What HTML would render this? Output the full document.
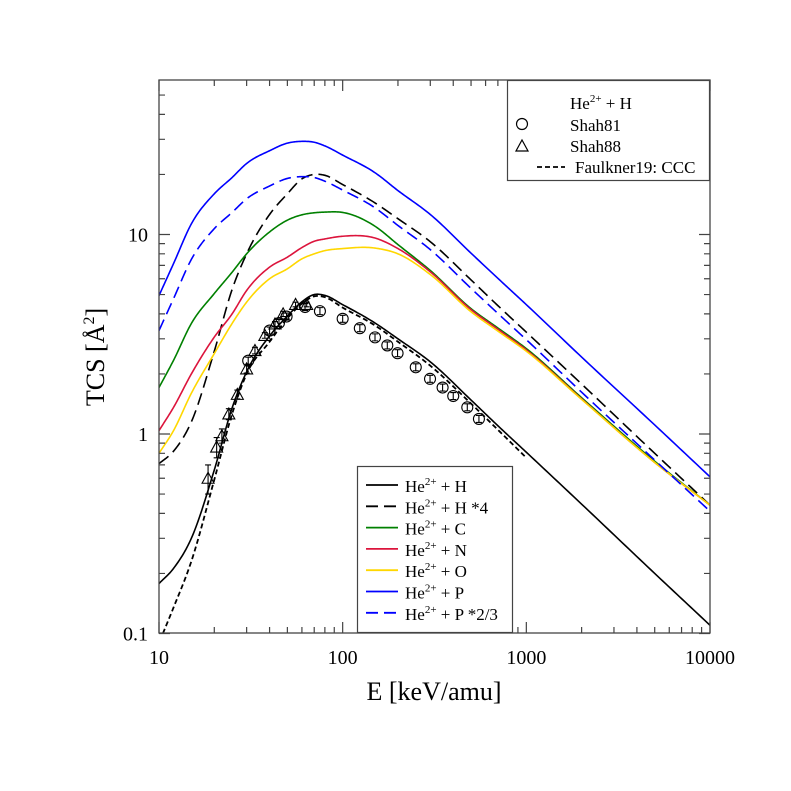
<!DOCTYPE html>
<html><head><meta charset="utf-8"><style>
body{margin:0;background:#fff}
svg{display:block;font-family:"Liberation Serif",serif}
</style></head><body>
<svg id="c" width="791" height="791" viewBox="0 0 791 791">
<rect width="791" height="791" fill="#fff"/>
<g id="series"></g>
<g id="marks"></g>
<g id="axes"></g>
<text x="434" y="700" font-size="26" text-anchor="middle">E [keV/amu]</text>
<text transform="translate(104,357) rotate(-90)" font-size="26" text-anchor="middle">TCS [Å<tspan font-size="16" dy="-10">2</tspan><tspan dy="10">]</tspan></text>
<g>
<rect x="507.5" y="80.5" width="202" height="100" fill="#fff" stroke="#444" stroke-width="1.2"/>
<text x="570" y="109" font-size="17">He<tspan font-size="11" dy="-7">2+</tspan><tspan dy="7"> + H</tspan></text>
<circle cx="522" cy="124" r="5.5" fill="none" stroke="#000" stroke-width="1.2"/>
<text x="570" y="131" font-size="17">Shah81</text>
<path d="M516,151 L528,151 L522,140 Z" fill="none" stroke="#000" stroke-width="1.2"/>
<text x="570" y="152" font-size="17">Shah88</text>
<line x1="537" y1="167" x2="565" y2="167" stroke="#000" stroke-width="1.8" stroke-dasharray="5,3"/>
<text x="575" y="173" font-size="17">Faulkner19: CCC</text>
</g>
<g id="legend2">
<rect x="357.5" y="466.5" width="155" height="166" fill="#fff" stroke="#444" stroke-width="1.2"/>
</g>
</svg>
<script>
const energies=[10,12,15,20,25,30,40,50,60,70,80,100,150,200,300,500,700,1000,2000,5000,10000];
const sigH=[0.178,0.212,0.3,0.66,1.35,2.05,3.1,3.9,4.6,5.0,4.95,4.45,3.6,3.0,2.3,1.48,1.10,0.81,0.445,0.20,0.11];
const sigH4=[0.71,0.82,1.15,2.6,5.3,8.0,12.6,16.0,19.0,20,19.8,17.8,14.4,12,9.2,5.92,4.40,3.24,1.78,0.80,0.44];
const sigC=[1.71,2.34,3.58,5.06,6.47,8.0,10.3,11.8,12.55,12.85,12.95,12.9,11.0,8.9,6.6,4.25,3.4,2.68,1.52,0.73,0.44];
const sigN=[1.04,1.36,2.0,3.06,4.0,5.24,6.86,7.7,8.6,9.25,9.5,9.8,9.6,8.5,6.5,4.2,3.35,2.64,1.5,0.72,0.44];
const sigO=[0.80,1.04,1.6,2.53,3.58,4.58,6.0,6.73,7.55,8.0,8.3,8.5,8.55,8.0,6.3,4.1,3.28,2.6,1.49,0.72,0.44];
const sigP=[4.94,7.15,11.3,16,19.3,22.7,26.3,28.7,29.3,29.0,27.8,25,20.4,16.6,12.6,8.06,6.03,4.45,2.43,1.11,0.61];
const sigP23=[3.3,4.77,7.5,10.7,12.9,15.1,17.5,19.1,19.5,19.3,18.5,16.7,13.6,11.1,8.4,5.37,4.02,2.97,1.62,0.74,0.41];
const ccE=[10.5,12,15,20,25,30,40,50,60,70,80,100,150,200,300,500,700,1000];
const ccSig=[0.1,0.135,0.23,0.59,1.26,2.0,2.9,3.8,4.5,4.9,4.85,4.3,3.5,2.9,2.2,1.42,1.05,0.76];
const s81E=[30.6,40,45,49.5,62.4,75.2,100,124,150,175,199,250,299,350,400,477,552];
const s81Sig=[2.33,3.3,3.6,3.88,4.33,4.13,3.78,3.39,3.05,2.78,2.54,2.16,1.89,1.71,1.55,1.36,1.19];
const s88E=[18.5,20.6,22,24,26.7,30,33.3,37.7,42.8,47.4,55.4,63.7];
const s88Sig=[0.6,0.86,0.98,1.26,1.58,2.12,2.62,3.12,3.56,4.0,4.46,4.46];
const s88Err=[0.1,0.1,0.08,0.08,0.08,0.1,0.1,0.1,0.1,0.12,0.12,0.12];
const xTicks=[10,100,1000,10000];
const xTickLabels=["10","100","1000","10000"];
const yTicks=[0.1,1,10];
const yTickLabels=["0.1","1","10"];
const legendLabels=[" + H"," + H *4"," + C"," + N"," + O"," + P"," + P *2/3"];

const X0=159,X1=710,Y0=633,Y1=80;
const xS=v=>X0+(Math.log10(v)-1)*(X1-X0)/3;
const yS=v=>434-(Math.log10(v))*199.5;
const NS='http://www.w3.org/2000/svg';
function mk(tag,at,parent){const e=document.createElementNS(NS,tag);for(const k in at)e.setAttribute(k,at[k]);parent.appendChild(e);return e;}
function pathFrom(xs,ys){
  const lx=xs.map(Math.log10),ly=ys.map(Math.log10),n=lx.length;
  const m=lx.map((_,i)=>{
    if(i===0)return (ly[1]-ly[0])/(lx[1]-lx[0]);
    if(i===n-1)return (ly[n-1]-ly[n-2])/(lx[n-1]-lx[n-2]);
    const d0=(ly[i]-ly[i-1])/(lx[i]-lx[i-1]),d1=(ly[i+1]-ly[i])/(lx[i+1]-lx[i]);
    const w0=lx[i+1]-lx[i],w1=lx[i]-lx[i-1];
    return (d0*w0+d1*w1)/(w0+w1);
  });
  const pts=[];
  for(let i=0;i<n-1;i++){
    const h=lx[i+1]-lx[i];const steps=20;
    for(let k=(i===0?0:1);k<=steps;k++){
      const t=k/steps,t2=t*t,t3=t2*t;
      const y=(2*t3-3*t2+1)*ly[i]+(t3-2*t2+t)*h*m[i]+(-2*t3+3*t2)*ly[i+1]+(t3-t2)*h*m[i+1];
      const x=lx[i]+t*h;
      pts.push([X0+(x-1)*(X1-X0)/3,434-y*199.5]);
    }
  }
  return 'M'+pts.map(p=>p[0].toFixed(2)+','+p[1].toFixed(2)).join(' L');
}
const defs=mk('defs',{},document.getElementById('c'));
const cp=mk('clipPath',{id:'clip'},defs);
mk('rect',{x:X0,y:Y1,width:X1-X0,height:Y0-Y1},cp);
const sg=document.getElementById('series');
sg.setAttribute('clip-path','url(#clip)');
const seriesDefs=[
 ['series-he-h',sigH,'#000','',energies],
 ['series-he-h-x4',sigH4,'#000','12,6',energies],
 ['series-he-c',sigC,'#008000','',energies],
 ['series-he-n',sigN,'#dc143c','',energies],
 ['series-he-o',sigO,'#ffd700','',energies],
 ['series-he-p',sigP,'#0000ff','',energies],
 ['series-he-p-x23',sigP23,'#0000ff','12,6',energies],
 ['series-faulkner-ccc',ccSig,'#000','5,3',ccE]
];
const legendOrder=[0,1,2,3,4,5,6];
seriesDefs.forEach(s=>{
  const el=mk('path',{d:pathFrom(s[4],s[1]),fill:'none',stroke:s[2],'stroke-width':s[3]==='5,3'?1.8:1.6},sg);
  if(s[3])el.setAttribute('stroke-dasharray',s[3]);
  
  
});
const mg=document.getElementById('marks');
s81E.forEach((e,i)=>{
  const cx=xS(e),cy=yS(s81Sig[i]);
  const g=mk('g',{stroke:'#000','stroke-width':1.1,fill:'none'},mg);
  
  
  mk('circle',{cx:cx,cy:cy,r:5.5},g);
  mk('path',{d:`M${cx},${cy-3.5}V${cy+3.5}M${cx-3},${cy-3.5}H${cx+3}M${cx-3},${cy+3.5}H${cx+3}`},g);
});
s88E.forEach((e,i)=>{
  const cx=xS(e),cy=yS(s88Sig[i]);
  const g=mk('g',{stroke:'#000','stroke-width':1.1,fill:'none'},mg);
  
  
  mk('path',{d:`M${cx-6},${cy+5}L${cx+6},${cy+5}L${cx},${cy-6}Z`},g);
  const t=yS(s88Sig[i]+s88Err[i]),b=yS(s88Sig[i]-s88Err[i]);
  mk('path',{d:`M${cx},${t}V${b}M${cx-3},${t}H${cx+3}M${cx-3},${b}H${cx+3}`},g);
});
const ax=document.getElementById('axes');
const fr=mk('rect',{x:X0,y:Y1,width:X1-X0,height:Y0-Y1,fill:'none',stroke:'#444','stroke-width':1.3},ax);


let td='';
for(let dec=10;dec<10000;dec*=10)for(let m=1;m<10;m++){const v=dec*m;const x=xS(v);const L=m===1?11:6;td+=`M${x},${Y0}v${-L}M${x},${Y1}v${L}`;}
td+=`M${X1},${Y0}v-11M${X1},${Y1}v11`;
for(let dec=0.1;dec<100;dec*=10)for(let m=1;m<10;m++){const v=dec*m;const y=yS(v);if(y<Y1-0.5)continue;const L=m===1?11:6;td+=`M${X0},${y}h${L}M${X1},${y}h${-L}`;}
const tk=mk('path',{d:td,stroke:'#444','stroke-width':1.2,fill:'none'},ax);


xTicks.forEach((v,i)=>{const t=mk('text',{x:xS(v),y:664,'font-size':20,'text-anchor':'middle'},ax);t.textContent=xTickLabels[i];
  
  });
yTicks.forEach((v,i)=>{const t=mk('text',{x:148,y:yS(v)+7,'font-size':20,'text-anchor':'end'},ax);t.textContent=yTickLabels[i];
  
  });
const lg=document.getElementById('legend2');
legendOrder.forEach((si,i)=>{
  const s=seriesDefs[si];const y=485+i*21.3;
  const g=mk('g',{},lg);
  
  
  const l=mk('line',{x1:366,y1:y,x2:398,y2:y,stroke:s[2],'stroke-width':1.8},g);
  if(s[3])l.setAttribute('stroke-dasharray','12,6');
  const t=mk('text',{x:405,y:y+7,'font-size':17},g);
  t.appendChild(document.createTextNode('He'));
  const sp=mk('tspan',{'font-size':11,dy:-7},t);sp.textContent='2+';
  const sp2=mk('tspan',{dy:7},t);sp2.textContent=legendLabels[i];
});
</script>
</body></html>
